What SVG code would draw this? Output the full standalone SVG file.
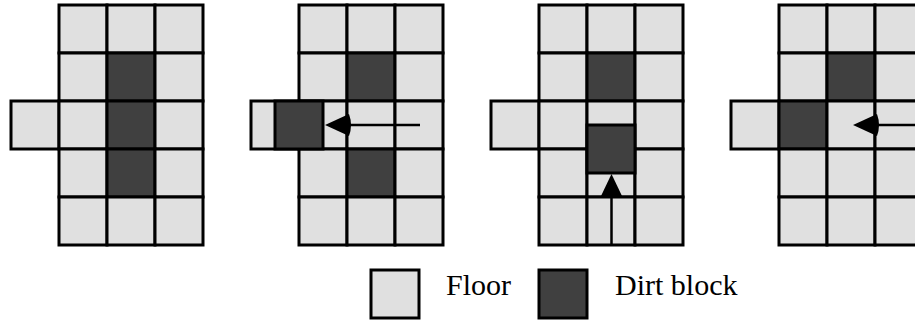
<svg xmlns="http://www.w3.org/2000/svg" width="915" height="320" viewBox="0 0 915 320">
<style>
.floor{fill:#e0e0e0;stroke:#000;stroke-width:3}
.dirt{fill:#404040;stroke:#000;stroke-width:3}
.line{fill:none;stroke:#000;stroke-width:2.5}
.head{fill:#000;stroke:none}
.lbl{font-family:"Liberation Serif","Times New Roman",serif;font-size:30px;fill:#000}
</style>
<defs>
<rect id="f" class="floor" width="48" height="48"/>
<rect id="d" class="dirt" width="48" height="48"/>
</defs>
<g id="panel1">
<use href="#f" x="59" y="5"/><use href="#f" x="107" y="5"/><use href="#f" x="155" y="5"/>
<use href="#f" x="59" y="53"/><use href="#d" x="107" y="53"/><use href="#f" x="155" y="53"/>
<use href="#f" x="11" y="101"/><use href="#f" x="59" y="101"/><use href="#d" x="107" y="101"/><use href="#f" x="155" y="101"/>
<use href="#f" x="59" y="149"/><use href="#d" x="107" y="149"/><use href="#f" x="155" y="149"/>
<use href="#f" x="59" y="197"/><use href="#f" x="107" y="197"/><use href="#f" x="155" y="197"/>
</g>
<g id="panel2">
<use href="#f" x="299" y="5"/><use href="#f" x="347" y="5"/><use href="#f" x="395" y="5"/>
<use href="#f" x="299" y="53"/><use href="#d" x="347" y="53"/><use href="#f" x="395" y="53"/>
<use href="#f" x="251" y="101"/><use href="#f" x="299" y="101"/><use href="#f" x="347" y="101"/><use href="#f" x="395" y="101"/>
<use href="#f" x="299" y="149"/><use href="#d" x="347" y="149"/><use href="#f" x="395" y="149"/>
<use href="#f" x="299" y="197"/><use href="#f" x="347" y="197"/><use href="#f" x="395" y="197"/>
<use href="#d" x="275" y="101"/>
</g>
<g id="panel3">
<use href="#f" x="539" y="5"/><use href="#f" x="587" y="5"/><use href="#f" x="635" y="5"/>
<use href="#f" x="539" y="53"/><use href="#d" x="587" y="53"/><use href="#f" x="635" y="53"/>
<use href="#f" x="491" y="101"/><use href="#f" x="539" y="101"/><use href="#f" x="587" y="101"/><use href="#f" x="635" y="101"/>
<use href="#f" x="539" y="149"/><use href="#f" x="587" y="149"/><use href="#f" x="635" y="149"/>
<use href="#f" x="539" y="197"/><use href="#f" x="587" y="197"/><use href="#f" x="635" y="197"/>
<use href="#d" x="587" y="125"/>
</g>
<g id="panel4">
<use href="#f" x="779" y="5"/><use href="#f" x="827" y="5"/><use href="#f" x="875" y="5"/>
<use href="#f" x="779" y="53"/><use href="#d" x="827" y="53"/><use href="#f" x="875" y="53"/>
<use href="#f" x="731" y="101"/><use href="#d" x="779" y="101"/><use href="#f" x="827" y="101"/><use href="#f" x="875" y="101"/>
<use href="#f" x="779" y="149"/><use href="#f" x="827" y="149"/><use href="#f" x="875" y="149"/>
<use href="#f" x="779" y="197"/><use href="#f" x="827" y="197"/><use href="#f" x="875" y="197"/>
</g>
<g id="connectors">
<line class="line" x1="420" y1="125" x2="345" y2="125"/>
<path class="head" d="M325,125 L349,114 Q353,125 349,136 Z"/>
<line class="line" x1="611.5" y1="245" x2="611.5" y2="190"/>
<path class="head" d="M611.5,174 L622,196 L601,196 Z"/>
<line class="line" x1="920" y1="125" x2="873" y2="125"/>
<path class="head" d="M853,125 L877,114 Q881,125 877,136 Z"/>
</g>
<g id="legend-floor">
<rect class="floor" x="371" y="270" width="48" height="48"/>
<text class="lbl" x="446" y="295">Floor</text>
</g>
<g id="legend-dirt">
<rect class="dirt" x="539" y="270" width="48" height="48"/>
<text class="lbl" x="615" y="295">Dirt block</text>
</g>
</svg>
